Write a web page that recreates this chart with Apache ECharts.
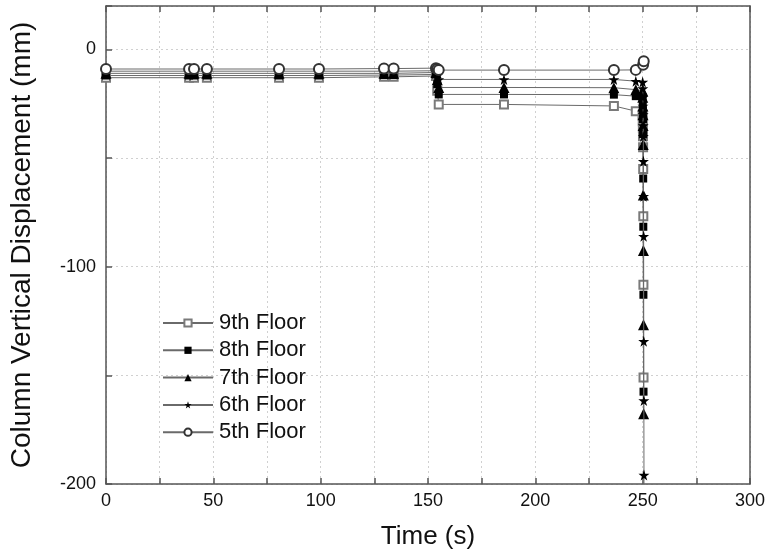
<!DOCTYPE html>
<html>
<head>
<meta charset="utf-8">
<script src="https://cdn.jsdelivr.net/npm/echarts@6/dist/echarts.min.js"></script>
<style>html,body{margin:0;padding:0;background:#fff}#c{width:769px;height:555px}</style>
</head>
<body>
<div id="c"></div>
<script>
// Plateau phase (shared time points, s)
var tPre = [0, 38.7, 41, 47, 80.6, 99.2, 129.5, 134, 153.7, 154.3, 155, 185.4, 236.6, 246.8];
var pre5 = [-9, -9, -9, -9, -9, -9, -8.8, -8.8, -8.6, -9, -9.5, -9.5, -9.5, -9.4];
var pre6 = [-10, -10, -10, -10, -10, -10, -10, -10, -9.8, -12, -13.8, -13.8, -13.8, -14.6];
var pre7 = [-11, -11, -11, -11, -11, -11, -11, -11, -10.6, -14, -17.5, -17.5, -17.6, -18.5];
var pre8 = [-12, -12, -12, -12, -12, -12, -11.8, -11.8, -11.5, -16, -20.7, -20.7, -20.8, -21.5];
var pre9 = [-13, -13, -13, -13, -13, -13, -12.6, -12.6, -12.2, -19, -25.3, -25.3, -26, -28.4];

// Collapse phase (near t = 250 s)
var tDrop5 = [250.2, 250.5];
var drop5 = [-7, -5.4];
var tDrop6 = [250, 250.05, 250.1, 250.15, 250.2, 250.25, 250.3, 250.35, 250.4, 250.45, 250.5, 250.55, 250.6, 250.65];
var drop6 = [-15, -18, -22, -26, -30, -35, -40, -51.5, -67.6, -86, -134.3, -161.6, -195.9, -210];
var tDrop7 = [250, 250.05, 250.1, 250.15, 250.2, 250.25, 250.3, 250.35, 250.4, 250.45];
var drop7 = [-19, -22, -26, -30, -35, -43.8, -67, -92.5, -126.7, -167.7];
var tDrop8 = [250, 250.05, 250.1, 250.15, 250.2, 250.25, 250.3, 250.35, 250.4];
var drop8 = [-22, -25, -28, -32, -39, -59.4, -81.6, -112.9, -157.5];
var tDrop9 = [250, 250.05, 250.1, 250.15, 250.2, 250.25, 250.3, 250.35, 250.4];
var drop9 = [-30, -33, -36, -40, -45, -55, -76.8, -108.3, -151];

var names = ['9th Floor', '8th Floor', '7th Floor', '6th Floor', '5th Floor'];
var xTicks = [0, 50, 100, 150, 200, 250, 300];
var yTicks = [0, -100, -200];

function pairs(t1, v1, t2, v2) {
  var out = [];
  for (var i = 0; i < t1.length; i++) out.push([t1[i], v1[i]]);
  for (var j = 0; j < t2.length; j++) out.push([t2[j], v2[j]]);
  return out;
}
var starPath = 'path://M50,0 L61,35 L98,35 L68,57 L79,91 L50,70 L21,91 L32,57 L2,35 L39,35 Z';
var FONT = 'Liberation Sans, Arial, sans-serif';
var lineStyle = {color: '#6a6a6a', width: 1};

function mk(name, data, symbol, size, itemStyle, z) {
  return {
    name: name, type: 'line', data: data, symbol: symbol, symbolSize: size,
    showAllSymbol: true, lineStyle: lineStyle, itemStyle: itemStyle, z: z,
    clip: true, animation: false
  };
}

var chart = echarts.init(document.getElementById('c'), null, {renderer: 'canvas'});
chart.setOption({
  animation: false,
  backgroundColor: '#fff',
  grid: {left: 106, top: 6, right: 19, bottom: 71, show: false},
  legend: {
    orient: 'vertical', left: 157, top: 307,
    itemWidth: 50, itemHeight: 9, itemGap: 5.3,
    textStyle: {fontFamily: FONT, fontSize: 22, color: '#111', lineHeight: 22, padding: [0, 0, 0, 1]},
    data: names
  },
  xAxis: [{
    type: 'value', min: 0, max: 300, interval: 25,
    name: 'Time (s)', nameLocation: 'middle', nameGap: 40,
    nameTextStyle: {fontFamily: FONT, fontSize: 26, color: '#111'},
    axisLine: {show: true, onZero: false, lineStyle: {color: '#555', width: 1.5}},
    axisTick: {show: true, inside: true, length: 6, lineStyle: {color: '#555', width: 1.5}},
    axisLabel: {fontFamily: FONT, fontSize: 18, color: '#111', margin: 8,
      formatter: function (v) { return xTicks.indexOf(v) >= 0 ? String(v) : ''; }},
    splitLine: {show: true, lineStyle: {color: '#d0d0d0', type: [2, 3], width: 1}}
  }, {
    type: 'value', position: 'top', min: 0, max: 300, interval: 25,
    axisLine: {show: true, onZero: false, lineStyle: {color: '#555', width: 1.5}},
    axisTick: {show: true, inside: true, length: 6, lineStyle: {color: '#555', width: 1.5}},
    axisLabel: {show: false}, splitLine: {show: false}
  }],
  yAxis: [{
    type: 'value', min: -200, max: 20, interval: 50,
    name: 'Column Vertical Displacement (mm)', nameLocation: 'middle', nameGap: 70,
    nameTextStyle: {fontFamily: FONT, fontSize: 28, color: '#111'},
    axisLine: {show: true, onZero: false, lineStyle: {color: '#555', width: 1.5}},
    axisTick: {show: true, inside: true, length: 6, lineStyle: {color: '#555', width: 1.5}},
    axisLabel: {fontFamily: FONT, fontSize: 18, color: '#111', margin: 10,
      formatter: function (v) { return yTicks.indexOf(v) >= 0 ? String(v) : ''; }},
    splitLine: {show: true, lineStyle: {color: '#d0d0d0', type: [2, 3], width: 1}}
  }, {
    type: 'value', position: 'right', min: -200, max: 20, interval: 50,
    axisLine: {show: true, onZero: false, lineStyle: {color: '#555', width: 1.5}},
    axisTick: {show: false}, axisLabel: {show: false}, splitLine: {show: false}
  }],
  series: [
    mk(names[0], pairs(tPre, pre9, tDrop9, drop9), 'emptyRect', 8, {color: '#7a7a7a', borderWidth: 1.2}, 2),
    mk(names[1], pairs(tPre, pre8, tDrop8, drop8), 'rect', 8, {color: '#000'}, 3),
    mk(names[2], pairs(tPre, pre7, tDrop7, drop7), 'triangle', 11, {color: '#000'}, 4),
    mk(names[3], pairs(tPre, pre6, tDrop6, drop6), starPath, 11, {color: '#000'}, 5),
    mk(names[4], pairs(tPre, pre5, tDrop5, drop5), 'emptyCircle', 10, {color: '#333', borderWidth: 1}, 6)
  ]
});
</script>
</body>
</html>
